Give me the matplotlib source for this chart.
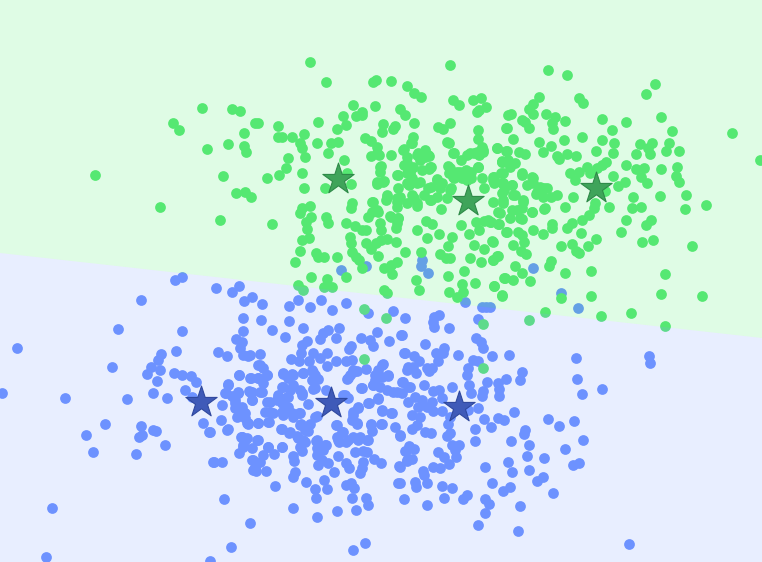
import matplotlib
matplotlib.use("Agg")
import matplotlib.pyplot as plt
import numpy as np

green_points = [
(202,108),(232,109),(240,111),(173,123),(179,130),(244,133),(255,123),(207,149),(228,144),(244,146),(246,152),(95,175),(223,176),(236,193),(245,192),(251,197),(160,207),(220,220),
(310,62),(450,65),(326,82),(373,82),(376,80),(391,81),(407,86),(414,93),(421,97),(453,100),(459,105),(473,100),(481,98),(486,107),(477,112),(479,110),(353,105),(375,106),(400,109),(405,115),(343,116),(356,116),(362,112),(362,115),(258,123),(278,126),(318,122),(346,125),(337,129),(383,124),(382,132),(395,126),(393,129),(414,123),(438,127),(443,129),(450,123),(508,115),(506,128),(478,130),(304,134),(278,137),(282,137),(292,137),(365,138),(371,141),(413,137),(411,143),(447,142),(449,143),(478,139),(300,143),(302,148),(317,143),(331,143),(338,142),(377,147),(404,149),(425,150),(497,148),(506,151),(482,147),(483,152),(305,157),(328,153),(288,158),(344,160),(371,156),(379,155),(391,155),(417,155),(429,156),(454,153),(461,160),(467,155),(474,153),(479,155),(407,157),(286,168),(302,173),(279,175),(267,178),(381,166),(380,172),(347,173),(448,166),(449,173),(478,167),(502,162),(404,165),(431,167),(412,168),(422,170),(429,169),(397,175),(407,173),(457,172),(466,170),(471,172),(454,178),(462,178),(471,178),(482,178),(494,177),(501,173),(437,179),(384,181),(377,184),(351,184),(325,188),(304,188),(398,188),(409,185),(417,183),(431,187),(442,183),(451,188),(484,188),(494,183),(502,183),(504,190),
(387,195),(386,200),(372,202),(397,198),(397,207),(407,203),(417,206),(414,198),(431,200),(424,195),(437,197),(447,198),(441,209),(378,212),(372,212),(368,217),(352,203),(351,208),(310,206),(302,208),(300,213),(311,217),(306,222),(307,229),(272,224),(326,217),(328,223),(346,223),(355,226),(362,230),(366,230),(380,223),(381,230),(391,217),(398,218),(397,223),(396,228),(417,230),(426,221),(432,224),(461,225),(476,222),(484,221),(491,222),(499,224),(479,230),(469,234),(506,232),(439,234),(427,238),(452,237),(448,246),(474,245),(492,241),(484,249),(309,238),(302,240),(350,237),(351,243),(366,243),(371,249),(376,243),(381,240),(387,239),(396,242),(378,256),(405,252),(421,252),(300,251),(316,253),(318,257),(324,257),(337,257),(295,262),(352,252),(356,257),(359,260),(440,254),(446,258),(450,258),(470,258),(481,262),(493,260),(498,256),(397,262),(391,265),(384,268),(362,268),(392,274),(464,271),(448,276),(346,277),(311,277),(416,280),(327,279),(504,278),(475,283),(462,284),(324,287),(332,287),(298,285),(494,286),(419,290),(384,290),(387,293),(449,292),(463,292),(457,297),(502,295),
(303,290),(364,309),(386,318),(483,324),(364,359),(483,368),
(548,70),(567,75),(655,84),(646,94),(539,97),(533,104),(529,109),(579,98),(583,103),(533,114),(511,114),(546,114),(555,117),(661,117),(522,120),(525,122),(565,121),(552,123),(602,119),(626,122),(507,128),(529,128),(553,129),(612,130),(672,131),(732,133),(513,139),(564,140),(582,137),(602,140),(539,142),(614,143),(640,144),(652,143),(669,143),(497,148),(551,146),(543,152),(507,151),(519,152),(525,154),(596,151),(613,153),(636,154),(650,154),(648,148),(666,151),(679,151),(557,156),(559,159),(567,154),(576,156),(760,160),(502,161),(510,163),(606,162),(602,165),(626,165),(597,168),(587,167),(579,172),(570,173),(575,180),(590,173),(636,169),(644,168),(661,169),(677,167),(676,176),(641,177),(647,183),(679,182),(613,176),(618,186),(625,182),(605,191),(522,175),(532,177),(510,167),(503,173),(512,185),(503,183),(493,180),(527,185),(533,183),(540,187),(547,188),(536,194),(543,197),(551,197),(557,195),(573,197),(565,207),(544,209),(515,195),(523,202),(503,200),(493,202),(512,210),(500,213),(522,208),(532,212),(522,219),(490,222),(498,224),(552,224),(552,228),(533,230),(543,234),(507,232),(518,232),(522,235),(572,223),(567,228),(582,220),(589,215),(594,208),(595,203),(609,207),(633,197),(660,196),(686,195),(706,205),(632,208),(641,207),(685,209),(626,220),(651,220),(646,225),(621,232),(581,233),(596,239),(642,242),(653,240),(692,246),(493,242),(513,245),(524,242),(561,246),(572,244),(588,246),(576,251),(579,253),(521,251),(526,254),(497,256),(493,260),(551,261),(549,266),(515,266),(522,273),(565,273),(591,271),(505,278),(513,280),(530,281),(665,274),(494,286),(502,296),(561,298),(591,296),(661,294),(702,296),(545,312),(601,316),(631,313),(665,326),(529,320),
]

# extra points read from the crowded middle of the green cloud
green_dense = [
(377,153),(380,167),(407,163),(413,167),(420,160),(430,167),(398,175),(410,173),(420,182),(407,183),(437,180),(440,188),(428,188),(430,200),(450,190),(412,195),(400,197),(387,197),(377,182),(383,182),(453,177),(460,172),(470,173),(467,180),(450,168),(493,177),(503,183),(512,185),(502,193),(513,195),(523,200),(503,203),(517,210),(498,212),(488,220),(522,173),(533,178),(537,192),(544,188),(545,208),(532,212),(520,218),(510,218),(508,160),(502,162),(515,163),(470,153),(477,152),(483,150),(453,153),(478,167),(458,175),(417,203),(397,202),(373,202),(377,210),(390,216),(398,218),(412,178),(425,157),(418,153),(428,155),(403,150),(412,143),
]

blue_points = [
(533,268),(561,293),(578,308),(490,307),(341,270),(366,266),(422,260),(421,266),(428,273),(465,302),(482,307),(486,307),
(182,277),(175,280),(216,288),(239,286),(232,292),(141,300),(244,301),(252,297),(243,318),(118,329),(182,331),(243,331),(236,339),(242,342),(17,348),(176,351),(218,352),(227,356),(240,348),(243,355),(248,356),(112,367),(161,354),(158,360),(151,367),(160,370),(147,374),(157,381),(174,373),(182,375),(191,376),(196,382),(239,375),(251,378),(228,384),(185,390),(153,393),(2,393),(65,398),(127,399),(167,398),(192,397),(226,393),(238,393),(249,391),(232,396),(252,400),(222,405),(235,403),(242,407),(237,417),(245,413),(221,420),(247,423),(203,423),(209,432),(227,430),(105,424),(141,426),(153,430),(156,431),(86,435),(139,437),(142,435),(165,445),(241,437),(247,438),(93,452),(136,454),(243,447),(252,448),(239,453),(213,462),(222,462),(252,460),(253,470),(224,499),(52,508),(250,523),(231,547),(46,557),(210,561),
(262,304),(289,306),(298,300),(310,307),(321,300),(346,303),(332,310),(368,313),(393,311),(405,318),(261,320),(289,321),(272,330),(303,328),(285,337),(328,330),(323,333),(320,339),(339,328),(336,338),(377,332),(401,335),(361,338),(370,340),(373,346),(389,341),(307,341),(302,345),(301,353),(351,346),(349,349),(404,353),(250,355),(260,354),(313,353),(327,353),(320,358),(309,361),(291,359),(299,361),(336,361),(327,366),(346,361),(352,360),(366,369),(383,364),(378,370),(258,365),(263,368),(267,375),(258,378),(283,374),(292,374),(303,373),(312,370),(315,375),(318,379),(288,378),(353,370),(350,375),(347,379),(357,371),(388,376),(375,375),(373,385),(380,387),(387,390),(402,382),(408,387),(393,392),(402,393),(361,388),(313,389),(300,390),(326,390),(250,392),(260,392),(263,383),(282,387),(290,390),(225,393),(238,392),(302,395),(278,395),(287,397),(270,402),(277,400),(348,398),(343,395),(378,399),(369,403),(358,407),(353,412),(382,411),(392,413),(237,407),(243,412),(308,404),(288,407),(282,412),(265,412),(273,413),(299,413),(317,416),(292,413),
(240,413),(245,418),(210,432),(248,424),(258,423),(269,422),(301,424),(310,424),(308,431),(336,425),(352,420),(357,424),(371,424),(381,424),(395,427),(400,435),(281,429),(289,433),(297,436),(303,440),(300,447),(302,451),(242,437),(258,440),(243,445),(268,447),(274,454),(282,447),(316,441),(326,445),(317,448),(323,450),(317,455),(322,460),(318,465),(328,463),(334,472),(338,456),(342,432),(337,437),(339,442),(346,442),(353,437),(360,437),(367,440),(372,431),(355,452),(363,451),(367,452),(363,462),(362,468),(360,473),(374,459),(381,463),(346,463),(349,468),(405,451),(407,460),(399,466),(253,460),(263,455),(255,467),(260,462),(256,471),(266,471),(214,462),(293,456),(294,461),(295,472),(293,477),(306,482),(275,486),(324,480),(315,489),(327,489),(316,498),(346,485),(351,483),(354,488),(352,498),(366,498),(368,505),(356,510),(337,511),(398,483),(404,499),(293,508),(317,517),(365,543),(353,550),
(439,315),(434,317),(433,322),(434,327),(449,328),(478,319),(402,335),(425,344),(476,338),(481,342),(483,348),(444,348),(436,353),(443,353),(438,361),(458,355),(492,356),(509,355),(405,353),(414,356),(419,361),(576,358),(649,356),(650,363),(473,360),(478,361),(468,368),(467,375),(469,385),(471,393),(522,372),(506,379),(520,380),(498,383),(499,389),(499,396),(487,382),(483,391),(482,396),(577,379),(582,394),(602,389),(408,367),(407,370),(416,373),(413,367),(427,368),(432,368),(429,371),(403,382),(410,387),(424,385),(433,391),(439,390),(452,387),(442,398),(415,397),(422,400),(432,402),(408,402),(418,407),(427,407),(433,411),(442,411),(450,417),(478,408),(468,410),(514,412),(484,419),(498,418),(504,420),(548,419),(574,421),(559,426),(491,427),(475,429),(448,424),(412,415),(420,417),(417,425),(412,429),(425,432),(431,433),(450,433),(447,436),(400,436),(525,430),(524,434),(583,440),(475,441),(511,441),(529,445),(452,445),(459,445),(455,450),(409,446),(414,449),(406,451),(438,452),(444,457),(456,457),(565,449),(527,456),(544,458),(412,459),(407,461),(449,464),(400,467),(508,462),(579,463),(573,465),(433,467),(440,468),(485,467),(423,471),(424,475),(512,472),(529,470),(543,477),(537,481),(427,483),(415,482),(416,487),(400,483),(492,483),(442,486),(452,488),(510,487),(503,491),(553,493),(467,495),(463,499),(444,498),(427,505),(485,499),(489,504),(520,506),(485,513),(478,525),(518,531),(629,544),
]

# same for the crowded middle of the blue cloud
blue_dense = [
(239,375),(228,385),(238,393),(252,392),(262,392),(250,378),(258,378),(267,375),(260,365),(283,373),(293,375),(303,373),(313,372),(312,380),(315,388),(283,387),(293,385),(302,393),(288,397),(278,397),(267,402),(282,403),(270,412),(288,410),(283,415),(300,413),(293,417),(252,400),(235,400),(235,408),(242,415),(248,423),(258,423),(268,422),(228,429),(282,429),(290,432),(300,425),(305,430),(315,417),(242,437),(257,440),(282,447),(298,438),(305,442),(317,440),(325,445),(268,447),(245,440),
(353,372),(348,378),(362,388),(368,403),(358,408),(353,415),(357,423),(345,395),(382,410),(391,413),(371,425),(382,424),(337,425),(343,432),(338,440),(348,440),(358,440),(368,440),(375,380),(382,377),(388,375),(378,398),(397,392),(382,365),(373,385),
]

green_centers = [(338,179),(468,201),(596,188)]
blue_centers = [(201,402),(331,403),(459,407)]

boundary_x = [0, 762]
boundary_y = [253, 338]

green_all = np.array(green_points + green_dense)
blue_all = np.array(blue_points + blue_dense)
green_centers = np.array(green_centers)
blue_centers = np.array(blue_centers)

fig = plt.figure(figsize=(7.62, 5.62), dpi=100)
ax = fig.add_axes([0, 0, 1, 1])

# points first, the class regions get laid over them
ax.scatter(blue_all[:, 0], blue_all[:, 1], s=60, color=(111/255, 147/255, 1), linewidths=0, zorder=1)
ax.scatter(green_all[:, 0], green_all[:, 1], s=60, color=(93/255, 232/255, 120/255), linewidths=0, zorder=2)

ax.fill_between(boundary_x, 0, boundary_y, color=(42/255, 235/255, 82/255), alpha=0.15, linewidth=0, zorder=3)
ax.fill_between(boundary_x, boundary_y, 562, color=(102/255, 142/255, 1), alpha=0.15, linewidth=0, zorder=3)

ax.scatter(green_centers[:, 0], green_centers[:, 1], s=560, marker='*', facecolor='#3fa45a', edgecolor='#2e8a48', linewidths=0.8, zorder=4)
ax.scatter(blue_centers[:, 0], blue_centers[:, 1], s=560, marker='*', facecolor='#3f5ab8', edgecolor='#2f489e', linewidths=0.8, zorder=4)

ax.set_xlim(0, 762)
ax.set_ylim(562, 0)
ax.axis('off')

fig.savefig('out.png', dpi=100)
